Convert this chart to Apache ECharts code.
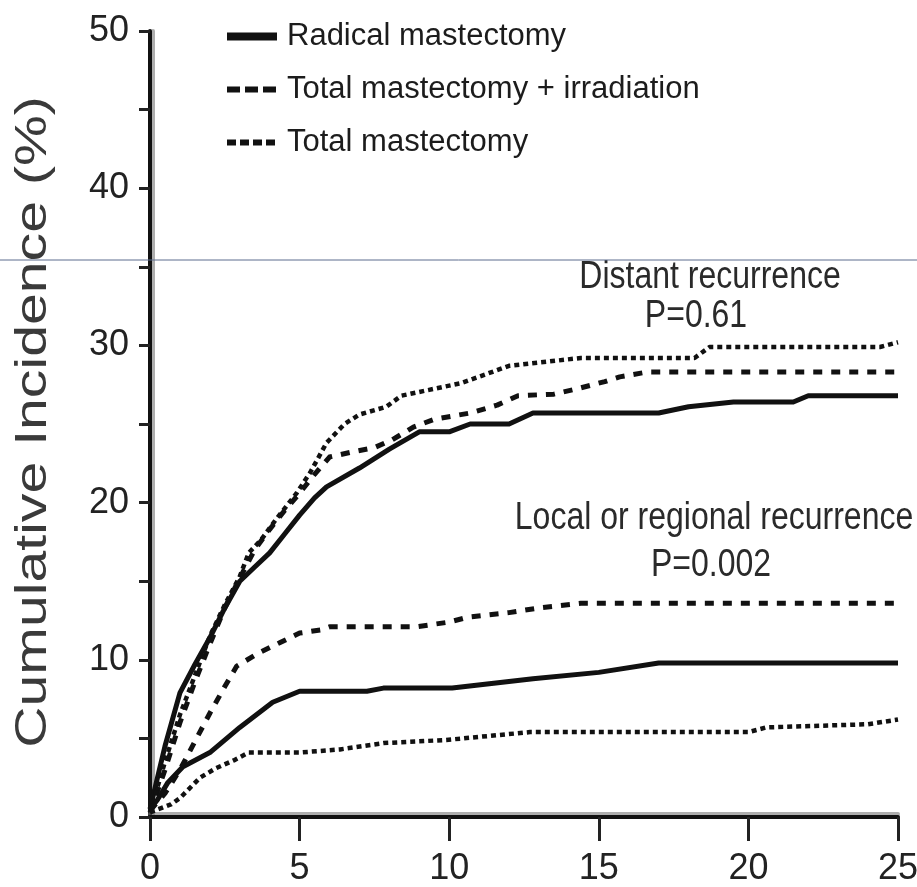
<!DOCTYPE html>
<html>
<head>
<meta charset="utf-8">
<script src="https://cdn.jsdelivr.net/npm/echarts@6/dist/echarts.min.js"></script>
<style>
  html, body { margin: 0; padding: 0; background: #ffffff; }
  #chart { width: 917px; height: 887px; }
</style>
</head>
<body>
<div id="chart"></div>
<script>
// Treatment groups
const seriesNames = ['Radical mastectomy', 'Total mastectomy + irradiation', 'Total mastectomy'];

// Axis ticks
const xTicks = [0, 5, 10, 15, 20, 25];
const yTickLabels = [0, 10, 20, 30, 40, 50];

// Distant recurrence: [years, cumulative incidence %]
const radicalDistant = [[0,0.5],[0.5,4.5],[1,7.9],[1.5,9.7],[2,11.4],[2.5,13.3],[3,15],[3.5,15.9],[4,16.8],[4.5,18],[5,19.2],[5.5,20.3],[5.9,21],[7,22.2],[8,23.4],[9,24.5],[10,24.5],[10.7,25],[12,25],[12.8,25.7],[17,25.7],[18,26.1],[19.5,26.4],[21.5,26.4],[22,26.8],[25,26.8]];
const irradiationDistant = [[0,0.3],[0.5,3],[1,6],[1.5,8.6],[2,11],[2.5,13.3],[3,15.2],[3.5,17],[4,18.3],[4.5,19.5],[5,20.6],[5.5,21.8],[6,22.9],[6.7,23.2],[7.5,23.5],[8.1,24],[8.8,24.8],[9.5,25.3],[10.7,25.7],[11.6,26.2],[12.3,26.8],[13.5,26.9],[14.4,27.3],[15.2,27.7],[15.7,28],[16.6,28.3],[25,28.3]];
const totalDistant = [[0,0.3],[0.5,3.5],[1,6.5],[1.5,9],[2,11.5],[2.5,13.5],[3,15.3],[3.3,16.8],[3.7,17.6],[4.2,18.9],[4.9,20.6],[5.35,21.9],[5.9,23.8],[6.5,25],[7,25.6],[7.9,26.1],[8.4,26.8],[10.4,27.6],[12,28.7],[14.4,29.2],[18.2,29.2],[18.7,29.9],[24.4,29.9],[25,30.2]];

// Local or regional recurrence: [years, cumulative incidence %]
const radicalLocal = [[0,0.5],[0.25,1.1],[0.6,2.2],[1.1,3.2],[2,4.1],[3,5.7],[4.1,7.3],[5,8],[7.25,8],[7.8,8.2],[10.1,8.2],[12.8,8.8],[15,9.2],[17,9.8],[25,9.8]];
const irradiationLocal = [[0,0.4],[0.5,1.5],[1,3],[1.5,4.8],[2,6.6],[2.5,8.3],[2.9,9.6],[3.6,10.4],[4.35,11.1],[5,11.7],[5.7,11.9],[6,12.1],[8.9,12.1],[10,12.4],[10.6,12.7],[12,13],[13,13.3],[14.4,13.6],[25,13.6]];
const totalLocal = [[0,0.3],[0.7,0.8],[1,1.2],[1.67,2.5],[2.2,3.1],[2.8,3.6],[3.3,4.1],[5,4.1],[6.35,4.3],[7.8,4.7],[9.9,4.9],[12.7,5.4],[20,5.4],[20.6,5.7],[24,5.9],[25,6.2]];

const FONT = '"Liberation Sans", Arial, Helvetica, sans-serif';
const INK = '#111111';

const styles = [
  { type: 'solid', width: 5 },
  { type: [9, 9], width: 5 },
  { type: [5, 4], width: 4.5 }
];

function curve(nameIdx, data) {
  return {
    type: 'line',
    name: seriesNames[nameIdx],
    data: data,
    symbol: 'none',
    smooth: false,
    silent: true,
    lineStyle: { color: INK, width: styles[nameIdx].width, type: styles[nameIdx].type, cap: 'butt', join: 'round' },
    itemStyle: { color: INK },
    z: 3
  };
}

const chart = echarts.init(document.getElementById('chart'), null, { renderer: 'canvas' });

chart.setOption({
  animation: false,
  backgroundColor: '#ffffff',
  grid: { left: 150, right: 19, top: 31, bottom: 70, containLabel: false, outerBoundsMode: 'none' },
  legend: {
    orient: 'vertical',
    left: 218,
    top: 16,
    itemWidth: 50,
    itemHeight: 8,
    itemGap: 22,
    selectedMode: false,
    itemStyle: { opacity: 0 },
    textStyle: { fontFamily: FONT, fontSize: 31, color: '#1c1c1c', padding: [0, 0, 0, 5] },
    data: [
      { name: seriesNames[0], lineStyle: { width: 8, type: 'solid', color: INK } },
      { name: seriesNames[1], lineStyle: { width: 6, type: [13, 5], color: INK } },
      { name: seriesNames[2], lineStyle: { width: 6, type: [9, 4], color: INK } }
    ]
  },
  xAxis: {
    type: 'value',
    min: xTicks[0],
    max: xTicks[xTicks.length - 1],
    interval: 5,
    splitLine: { show: false },
    axisLine: { show: true, onZero: false, lineStyle: { color: INK, width: 4, shadowColor: 'rgba(120,120,120,0.6)', shadowOffsetY: -3 } },
    axisTick: { show: true, length: 24, inside: false, lineStyle: { color: '#222', width: 3 } },
    axisLabel: {
      show: true, margin: 34, fontFamily: FONT, fontSize: 36, color: '#222',
      formatter: v => (xTicks.indexOf(v) > -1 ? String(v) : '')
    }
  },
  yAxis: {
    type: 'value',
    min: yTickLabels[0],
    max: yTickLabels[yTickLabels.length - 1],
    interval: 5,
    splitLine: { show: false },
    axisLine: { show: true, onZero: false, lineStyle: { color: INK, width: 4, shadowColor: 'rgba(120,120,120,0.6)', shadowOffsetX: 3 } },
    axisTick: { show: true, length: 11, inside: false, lineStyle: { color: '#222', width: 3 } },
    axisLabel: {
      show: true, margin: 21, fontFamily: FONT, fontSize: 36, color: '#222',
      formatter: v => (yTickLabels.indexOf(v) > -1 ? String(v) : '')
    }
  },
  series: [
    curve(0, radicalDistant),
    curve(1, irradiationDistant),
    curve(2, totalDistant),
    curve(0, radicalLocal),
    curve(1, irradiationLocal),
    curve(2, totalLocal)
  ],
  graphic: [
    {
      type: 'text', x: 34, y: 422, rotation: Math.PI / 2, scaleX: 1.3,
      style: { text: 'Cumulative Incidence (%)', font: '44px ' + FONT, fill: '#3a3a3a', align: 'center', verticalAlign: 'middle' }
    },
    {
      type: 'text', x: 710, y: 277, scaleY: 1.2,
      style: { text: 'Distant recurrence', font: '32px ' + FONT, fill: '#2a2a2a', align: 'center', verticalAlign: 'middle' }
    },
    {
      type: 'text', x: 696, y: 316, scaleY: 1.2,
      style: { text: 'P=0.61', font: '32px ' + FONT, fill: '#2a2a2a', align: 'center', verticalAlign: 'middle' }
    },
    {
      type: 'text', x: 714, y: 518, scaleY: 1.2,
      style: { text: 'Local or regional recurrence', font: '32px ' + FONT, fill: '#2a2a2a', align: 'center', verticalAlign: 'middle' }
    },
    {
      type: 'text', x: 711, y: 565, scaleY: 1.2,
      style: { text: 'P=0.002', font: '32px ' + FONT, fill: '#2a2a2a', align: 'center', verticalAlign: 'middle' }
    },
    {
      type: 'line', z: 100, silent: true,
      shape: { x1: 0, y1: 260, x2: 917, y2: 260 },
      style: { stroke: '#5d6d8e', lineWidth: 1 }
    }
  ]
});
</script>
</body>
</html>
